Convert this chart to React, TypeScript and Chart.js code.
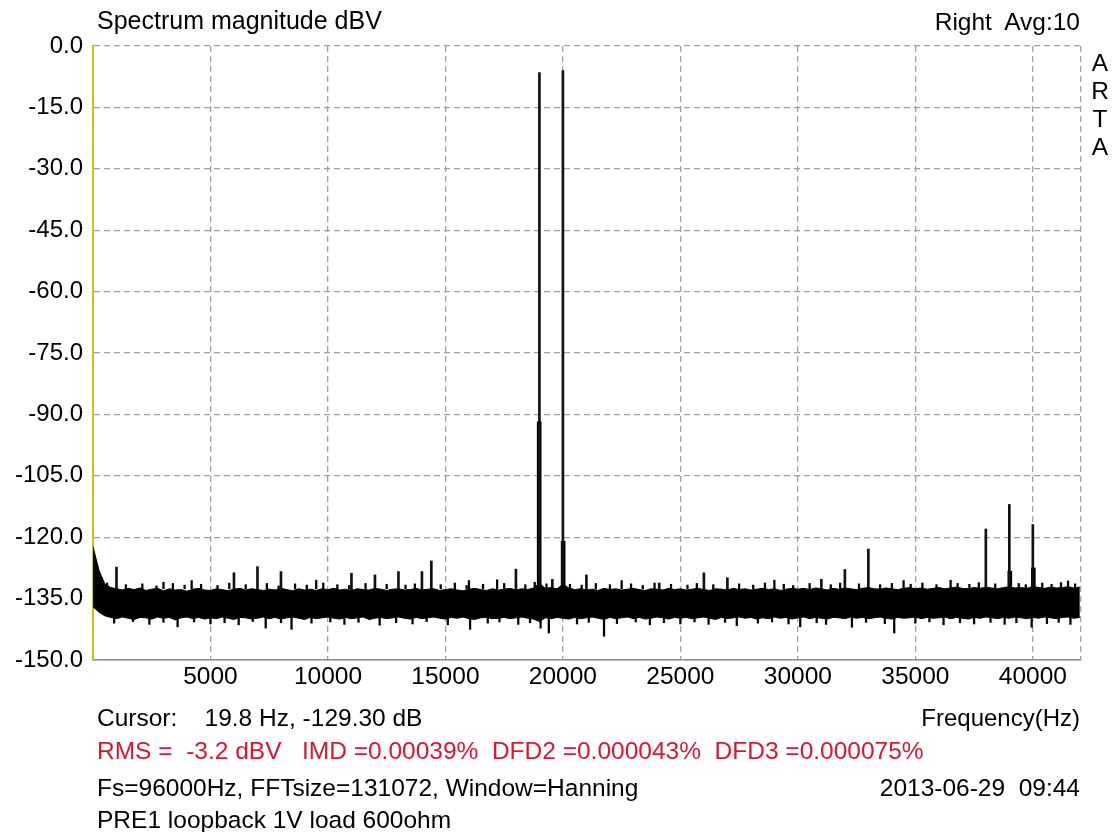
import React, { useEffect, useRef } from "react";
import { Chart, registerables } from "chart.js";

Chart.register(...registerables);

// Noise floor envelope, one value every binHz (0 .. 42000 Hz)
const binHz = 250;
const noiseUpper = [
  -122.3, -128.0, -131.4, -132.3, -132.6, -132.9, -132.5, -132.8, -132.4, -133.0,
  -132.7, -132.5, -133.1, -132.6, -132.9, -132.8, -133.2, -132.7, -132.5, -132.9,
  -133.0, -132.6, -132.8, -133.1, -132.7, -132.5, -132.9, -132.6, -132.8, -133.0,
  -132.7, -132.9, -132.5, -132.8, -133.1, -132.6, -132.9, -132.7, -133.0, -132.6,
  -132.8, -132.5, -132.9, -132.7, -133.0, -132.6, -132.8, -132.9, -132.5, -132.7,
  -133.0, -132.7, -132.6, -132.9, -132.8, -132.5, -132.9, -132.7, -132.6, -133.0,
  -132.8, -132.6, -132.9, -133.1, -132.7, -132.5, -132.8, -133.0, -132.6, -132.9,
  -132.7, -132.5, -132.9, -132.6, -132.8, -132.4, -131.3, -132.5, -132.3, -132.6,
  -131.5, -132.4, -132.8, -132.6, -132.9, -132.7, -133.0, -132.5, -132.8, -132.6,
  -132.9, -132.7, -132.5, -132.8, -133.0, -132.6, -132.7, -132.9, -132.5, -132.8,
  -132.6, -132.9, -132.7, -132.5, -132.8, -133.0, -132.6, -132.7, -132.9, -132.5,
  -132.8, -132.6, -132.9, -132.7, -132.5, -132.8, -132.6, -133.0, -132.7, -132.5,
  -132.7, -132.5, -132.8, -132.4, -132.6, -132.9, -132.5, -132.7, -132.4, -132.6,
  -132.8, -132.5, -132.3, -132.6, -132.7, -132.4, -132.6, -132.8, -132.5, -132.3,
  -132.6, -132.4, -132.7, -132.5, -132.3, -132.6, -132.4, -132.2, -132.5, -132.6,
  -132.3, -132.5, -132.2, -132.4, -132.6, -132.3, -132.1, -132.4, -132.3, -132.5,
  -132.0, -132.3, -132.5, -132.2, -132.4, -132.3, -132.1, -132.4, -132.2,
];
const noiseLower = [
  -137.0, -138.3, -139.2, -139.6, -139.9, -139.5, -139.8, -140.1, -139.6, -139.7,
  -140.0, -139.5, -139.8, -139.6, -140.2, -139.7, -139.5, -139.9, -139.6, -140.0,
  -139.7, -139.9, -139.5, -139.8, -140.1, -139.6, -139.7, -140.0, -139.8, -139.5,
  -139.9, -139.6, -140.0, -139.7, -139.5, -139.8, -140.1, -139.6, -139.9, -139.7,
  -139.5, -139.8, -140.0, -139.6, -139.9, -139.7, -139.5, -140.1, -139.8, -139.6,
  -139.9, -139.7, -139.5, -139.8, -140.0, -139.6, -139.9, -139.7, -139.5, -139.8,
  -140.0, -139.6, -139.8, -139.5, -139.9, -140.1, -139.7, -139.6, -139.9, -139.8,
  -139.6, -139.9, -139.7, -139.5, -139.8, -140.0, -140.6, -139.7, -139.9, -139.6,
  -139.8, -140.0, -139.6, -139.9, -139.7, -139.5, -139.8, -140.1, -139.6, -139.9,
  -139.7, -139.5, -139.9, -139.6, -140.0, -139.8, -139.5, -139.7, -140.0, -139.6,
  -139.8, -139.6, -139.9, -139.7, -139.5, -139.8, -140.1, -139.6, -139.9, -139.7,
  -139.5, -139.8, -139.6, -140.0, -139.7, -139.9, -139.5, -139.8, -139.6, -140.0,
  -139.7, -139.5, -139.9, -139.6, -139.8, -140.0, -139.6, -139.7, -139.9, -139.5,
  -139.8, -139.6, -139.9, -139.7, -139.5, -139.8, -140.0, -139.6, -139.8, -139.7,
  -139.5, -139.9, -139.6, -139.8, -139.7, -139.5, -139.9, -139.6, -139.8, -140.0,
  -139.6, -139.8, -139.5, -139.7, -139.9, -139.6, -139.8, -139.5, -139.7, -139.9,
  -139.6, -139.8, -139.5, -139.7, -139.9, -139.6, -139.5, -139.8, -139.6,
];

// Discrete spectral lines: [frequency Hz, level dBV]
const lineBase = -133;
const spectralLines: [number, number][] = [
  [1000, -127.3], [6000, -128.7], [7000, -127.2], [8000, -128.4], [11000, -128.8],
  [12000, -129.2], [13000, -128.4], [14000, -128.4], [14400, -125.8], [18000, -127.8],
  [19000, -6.5], [19550, -130.3], [20000, -6.0], [21000, -129.2], [24100, -131.2],
  [26000, -128.7], [27000, -129.9], [31000, -130.3], [32000, -127.9], [33000, -122.9],
  [38000, -118.0], [39000, -112.0], [40000, -116.9],
];

// Wider skirts at the base of the strongest lines
const skirtBase = -132;
const skirts: [number, number][] = [[18990, -91.8], [20010, -121.0], [39020, -128.3], [40020, -127.5]];

// Fine noise whiskers above the floor band
const grassBase = -132.6;
const grassUp: [number, number][] = [
  [600, -131.2], [1400, -131.6], [2100, -131.4], [2700, -131.9], [3000, -131.0], [3400, -131.3],
  [3900, -131.7], [4200, -130.6], [4600, -131.5], [5300, -131.8], [5800, -131.2], [6500, -131.6],
  [7400, -131.3], [7900, -131.9], [8600, -131.4], [9100, -131.7], [9500, -130.5], [9800, -131.2],
  [10400, -131.6], [10900, -131.8], [11600, -131.3], [12500, -131.5], [13300, -131.7], [13700, -131.4],
  [14800, -131.6], [15400, -131.2], [15900, -131.8], [16000, -130.6], [16600, -131.5], [17200, -130.4],
  [17500, -131.3], [18400, -131.6], [18800, -131.0], [19300, -131.4], [20300, -131.5], [20800, -131.7],
  [21400, -131.3], [22000, -131.6], [22500, -130.6], [22900, -131.4], [23400, -131.8], [23900, -131.2],
  [24600, -131.5], [25300, -131.7], [25700, -131.3], [26400, -131.6], [27500, -131.4], [28100, -131.7],
  [28600, -131.2], [29000, -130.5], [29400, -131.5], [29800, -131.8], [30500, -131.3], [31400, -131.6],
  [31800, -131.2], [32600, -131.4], [33500, -131.6], [34000, -131.3], [34500, -130.6], [34800, -131.5],
  [35300, -131.2], [35900, -131.6], [36500, -130.5], [36800, -131.3], [37300, -131.5], [37700, -131.1],
  [38400, -131.4], [39400, -131.3], [39700, -131.6], [40400, -131.2], [40800, -131.5], [41200, -131.1],
  [41500, -130.7], [41800, -131.4],
];

// Fine noise whiskers below the floor band
const grassBaseLow = -139.6;
const grassDown: [number, number][] = [
  [900, -141.0], [1700, -140.6], [2400, -141.3], [3000, -140.8], [3600, -141.9], [4300, -140.7],
  [5000, -141.2], [5600, -140.9], [6200, -141.4], [6800, -140.6], [7350, -142.2], [8000, -140.9],
  [8450, -142.5], [9300, -141.0], [10100, -140.7], [10700, -141.3], [11300, -140.8], [12200, -141.5],
  [12900, -140.9], [13600, -141.2], [14200, -140.6], [15100, -141.4], [16050, -142.5], [16800, -141.0],
  [17300, -140.7], [18100, -141.3], [18600, -140.9], [19050, -142.2], [19400, -143.4], [20600, -141.2],
  [21100, -140.8], [21750, -144.2], [22300, -141.1], [23100, -140.7], [23700, -141.4], [24300, -140.9],
  [25000, -141.2], [25600, -140.7], [26200, -141.3], [26900, -140.8], [27400, -141.6], [28300, -141.0],
  [28900, -140.7], [29600, -141.2], [30100, -141.9], [30800, -140.9], [31200, -141.3], [32300, -142.0],
  [32900, -140.8], [33700, -141.1], [34100, -143.4], [35000, -141.0], [35600, -140.7], [36200, -141.4],
  [36900, -140.9], [37500, -141.2], [38200, -140.8], [38800, -141.3], [39300, -140.9], [39950, -142.0],
  [40600, -141.1], [41100, -140.8], [41600, -141.3],
];

const xTicks = [5000, 10000, 15000, 20000, 25000, 30000, 35000, 40000];
const xMax = 42050;
const yTicks = [0, -15, -30, -45, -60, -75, -90, -105, -120, -135, -150];

const FONT = "'Liberation Sans', Arial, Helvetica, sans-serif";
const RED = "rgb(222,20,48)";

type Txt = { text: string; x: number; y: number; align: "left" | "right" | "center"; color?: string; size?: number };
const texts: Txt[] = [
  { text: "Spectrum magnitude dBV", x: 97, y: 20, align: "left", size: 25 },
  { text: "Right  Avg:10", x: 1080, y: 22, align: "right" },
  { text: "A", x: 1100, y: 63, align: "center" },
  { text: "R", x: 1100, y: 91, align: "center" },
  { text: "T", x: 1100, y: 119, align: "center" },
  { text: "A", x: 1100, y: 147, align: "center" },
  { text: "Cursor:    19.8 Hz, -129.30 dB", x: 97, y: 718, align: "left" },
  { text: "Frequency(Hz)", x: 1080, y: 718, align: "right", size: 24 },
  { text: "RMS =  -3.2 dBV   IMD =0.00039%  DFD2 =0.000043%  DFD3 =0.000075%", x: 97, y: 751, align: "left", color: RED },
  { text: "Fs=96000Hz, FFTsize=131072, Window=Hanning", x: 97, y: 788, align: "left" },
  { text: "2013-06-29  09:44", x: 1080, y: 788, align: "right" },
  { text: "PRE1 loopback 1V load 600ohm", x: 97, y: 820, align: "left" },
];

export default function App() {
  const ref = useRef<HTMLCanvasElement | null>(null);

  useEffect(() => {
    if (!ref.current) return;
    const band = (arr: number[]) => arr.map((v, i) => ({ x: i * binHz, y: v }));
    const bars = (arr: [number, number][], base: number) => arr.map(([f, v]) => ({ x: f, y: [base, v] }));
    const barSet = (label: string, data: any[], thickness: number, color: string) =>
      ({ type: "bar", label, data, backgroundColor: color, barThickness: thickness, grouped: false } as any);
    const chart = new Chart(ref.current, {
      type: "line",
      data: {
        datasets: [
          {
            type: "line",
            label: "noise top",
            data: band(noiseUpper),
            borderColor: "#000",
            borderWidth: 1,
            pointRadius: 0,
            tension: 0,
            fill: false,
          },
          {
            type: "line",
            label: "noise bottom",
            data: band(noiseLower),
            borderColor: "#000",
            borderWidth: 1,
            pointRadius: 0,
            tension: 0,
            fill: "-1",
            backgroundColor: "#000",
          },
          barSet("lines", bars(spectralLines, lineBase), 2, "#111"),
          barSet("skirts", bars(skirts, skirtBase), 4, "#000"),
          barSet("grass up", bars(grassUp, grassBase), 1.6, "#000"),
          barSet("grass down", bars(grassDown, grassBaseLow), 1.6, "#000"),
        ],
      },
      options: {
        animation: false,
        responsive: false,
        maintainAspectRatio: false,
        layout: { padding: { top: 46, right: 35, bottom: 132, left: 0 } },
        plugins: { legend: { display: false }, tooltip: { enabled: false } },
        scales: {
          x: {
            type: "linear",
            min: 0,
            max: xMax,
            offset: false,
            afterBuildTicks: (s: any) => {
              s.ticks = [...xTicks, xMax].map((v) => ({ value: v }));
            },
            afterFit: (s: any) => {
              s.height = 40;
            },
            ticks: {
              autoSkip: false,
              maxRotation: 0,
              padding: 3,
              color: "#000",
              font: { family: FONT, size: 24.5 },
              callback: (v: any) => (v === xMax ? "" : String(v)),
            },
            grid: { color: "#a0a0a0", lineWidth: 1.3, drawTicks: false, offset: false },
            border: { display: true, color: "#8c8c8c", width: 1.5, dash: [6, 4] },
          },
          y: {
            type: "linear",
            min: -150,
            max: 0,
            afterBuildTicks: (s: any) => {
              s.ticks = yTicks.map((v) => ({ value: v }));
            },
            afterFit: (s: any) => {
              s.width = 93;
            },
            ticks: {
              padding: 10,
              color: "#000",
              font: { family: FONT, size: 24 },
              callback: (v: any) => Number(v).toFixed(1),
            },
            grid: { color: "#a0a0a0", lineWidth: 1.3, drawTicks: false, offset: false },
            border: { display: true, color: "#c8c800", width: 2, dash: [6, 4] },
          },
        },
      },
    });
    return () => chart.destroy();
  }, []);

  return (
    <div style={{ position: "absolute", left: 0, top: 0, width: 1116, height: 832, background: "#fff", overflow: "hidden" }}>
      <canvas ref={ref} width={1116} height={832} style={{ display: "block", width: 1116, height: 832 }} />
      {texts.map((t, i) => (
        <div
          key={i}
          style={{
            position: "absolute",
            top: t.y - 12,
            left: t.align === "left" ? t.x : t.align === "center" ? t.x - 20 : undefined,
            right: t.align === "right" ? 1116 - t.x : undefined,
            width: t.align === "center" ? 40 : undefined,
            textAlign: t.align,
            fontFamily: FONT,
            fontSize: t.size || 24.5,
            lineHeight: "24px",
            whiteSpace: "pre",
            color: t.color || "#000",
          }}
        >
          {t.text}
        </div>
      ))}
    </div>
  );
}
